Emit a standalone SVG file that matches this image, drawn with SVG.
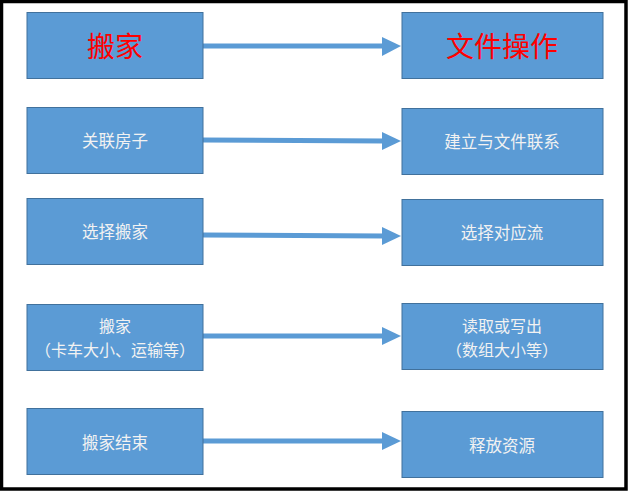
<svg xmlns="http://www.w3.org/2000/svg" width="628" height="491" viewBox="0 0 628 491">
<style>
.box{fill:#5B9BD5;stroke:#41719C;stroke-width:1}
.t{font-family:"Noto Sans CJK SC","Noto Sans",sans-serif;font-size:16.5px;fill:#F2F2F2;text-anchor:middle;dominant-baseline:central}
.s{font-size:16px}
.h{font-family:"Noto Sans CJK SC","Noto Sans",sans-serif;font-size:28px;fill:#FF0000;text-anchor:middle;dominant-baseline:central}
.c{stroke:#5B9BD5;stroke-width:5;fill:none}
.ah{fill:#5B9BD5}
</style>
<rect x="0" y="0" width="628" height="491" fill="#fff"/>
<rect x="1.5" y="1.5" width="624.5" height="487.5" fill="none" stroke="#000" stroke-width="3.5"/>
<g id="connectors">
<line class="c" x1="203" y1="46" x2="384" y2="46"/><polygon class="ah" points="382,37 401,46 382,56"/>
<line class="c" x1="203" y1="140" x2="384" y2="141"/><polygon class="ah" points="382,132 401,141 382,150"/>
<line class="c" x1="203" y1="235" x2="384" y2="236"/><polygon class="ah" points="382,227 401,236 382,245"/>
<line class="c" x1="203" y1="336" x2="384" y2="336"/><polygon class="ah" points="382,327 401,336 382,345"/>
<line class="c" x1="203" y1="441" x2="384" y2="441"/><polygon class="ah" points="382,432 401,441 382,450"/>
</g>
<g id="n1"><rect class="box" x="27" y="12.5" width="176" height="66"/><text class="h" x="115" y="45">搬家</text></g>
<g id="n2"><rect class="box" x="402" y="12.5" width="201" height="66"/><text class="h" x="502" y="45">文件操作</text></g>
<g id="n3"><rect class="box" x="27" y="107.5" width="176" height="66"/><text class="t" x="115" y="140">关联房子</text></g>
<g id="n4"><rect class="box" x="402" y="108.5" width="201" height="66"/><text class="t" x="502" y="141">建立与文件联系</text></g>
<g id="n5"><rect class="box" x="27" y="198.5" width="176" height="66"/><text class="t" x="115" y="231">选择搬家</text></g>
<g id="n6"><rect class="box" x="402" y="199.5" width="201" height="66"/><text class="t" x="502" y="232">选择对应流</text></g>
<g id="n7"><rect class="box" x="27" y="304.5" width="176" height="66"/><text class="t s" x="115" y="325">搬家</text><text class="t s" x="115" y="348.5">（卡车大小、运输等）</text></g>
<g id="n8"><rect class="box" x="402" y="303.5" width="201" height="66"/><text class="t s" x="502" y="325">读取或写出</text><text class="t s" x="502" y="348.5">（数组大小等）</text></g>
<g id="n9"><rect class="box" x="27" y="408.5" width="176" height="66"/><text class="t" x="115" y="442">搬家结束</text></g>
<g id="n10"><rect class="box" x="402" y="411.5" width="201" height="66"/><text class="t" x="502" y="445">释放资源</text></g>
</svg>
